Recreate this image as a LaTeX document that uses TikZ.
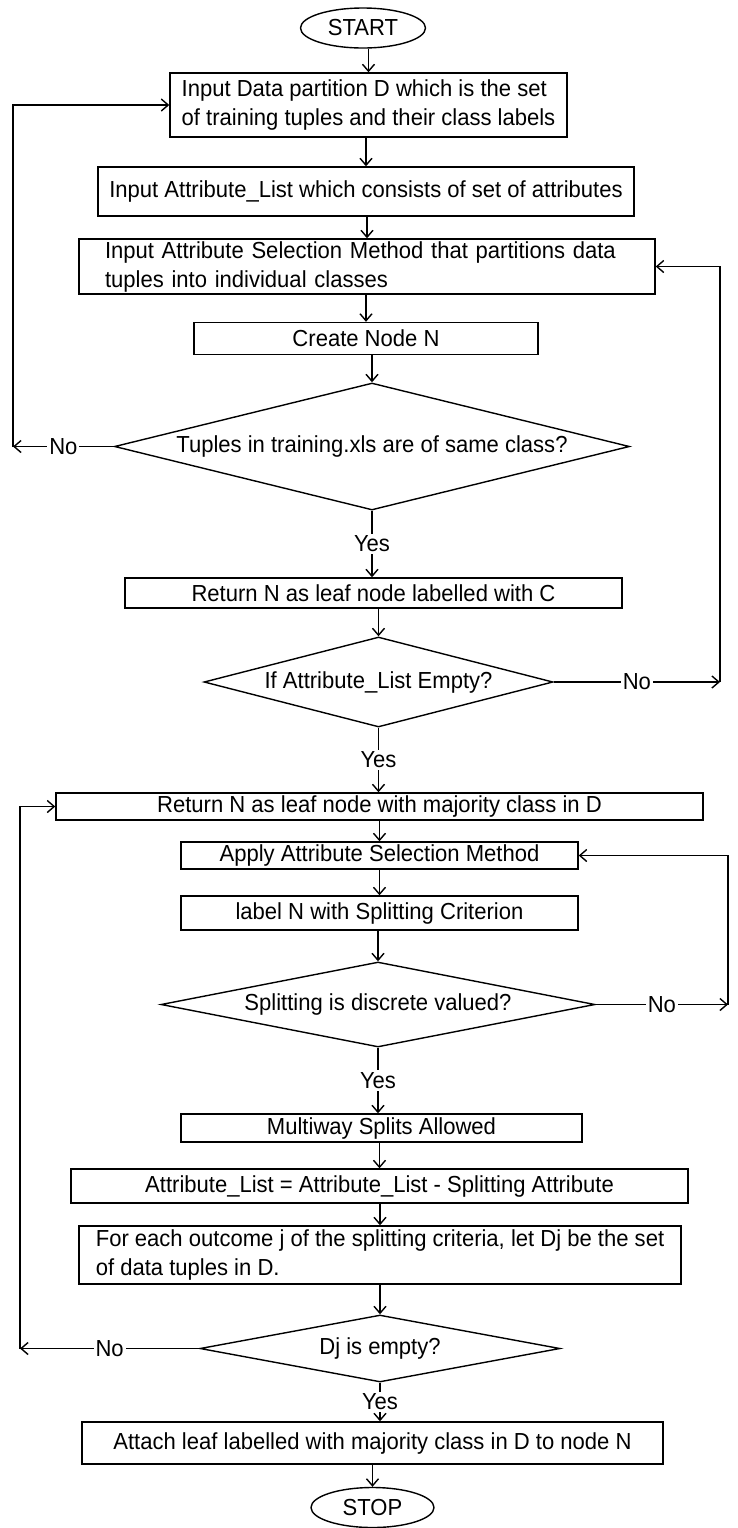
\documentclass[tikz,border=0pt]{standalone}
\usepackage{fontspec}
\setmainfont{Liberation Sans}[FakeStretch=0.95]
\usetikzlibrary{shapes.geometric}
\usetikzlibrary{arrows.meta}
\newcommand{\flowfont}{\fontsize{11.6}{14.5}\selectfont}
\tikzset{
  box/.style={draw,rectangle,line width=0.7pt,inner sep=1pt,align=center},
  leftbox/.style={box,align=left},
  term/.style={draw,ellipse,line width=0.7pt,inner sep=0pt},
  decide/.style={draw,diamond,line width=0.7pt,inner sep=0pt},
  arr/.style={line width=0.7pt,-{Straight Barb[length=3.5pt,width=6pt]}},
  lbl/.style={fill=white,inner sep=1pt}
}
\begin{document}
\begin{tikzpicture}[x=0.5pt,y=-0.5pt,font=\flowfont]
\useasboundingbox (0,0) rectangle (738,1528);

% start and inputs
\node[term,minimum width=62.5pt,minimum height=20pt] (start) at (363,28) {START};
\node[leftbox,minimum width=198.5pt,minimum height=32pt] (in1) at (368.5,105) {Input Data partition D which is the set\\of training tuples and their class labels};
\node[box,minimum width=268pt,minimum height=24.5pt] (in2) at (366,191.5) {Input Attribute\_List which consists of set of attributes};
\node[leftbox,text width=262pt,inner xsep=13pt,minimum height=27.5pt] (in3) at (367,266.5) {Input Attribute Selection Method that partitions data\\tuples into individual classes};
\node[box,minimum width=172pt,minimum height=16pt] (create) at (366,338.5) {Create Node N};

% first checks
\node[decide,aspect=4.06,minimum width=257.5pt,minimum height=63.5pt] (d1) at (372,446.5) {Tuples in training.xls are of same class?};
\node[box,minimum width=248.5pt,minimum height=15pt] (retc) at (373.5,593) {Return N as leaf node labelled with C};
\node[decide,aspect=3.88,minimum width=174.5pt,minimum height=45pt] (d2) at (378.5,682) {If Attribute\_List Empty?};
\node[box,minimum width=323.5pt,minimum height=13.5pt] (retm) at (379.5,806.5) {Return N as leaf node with majority class in D};

% splitting
\node[box,minimum width=198.5pt,minimum height=13.5pt] (apply) at (379.5,855.5) {Apply Attribute Selection Method};
\node[box,minimum width=198.5pt,minimum height=17pt] (lab) at (379.5,913) {label N with Splitting Criterion};
\node[decide,aspect=5.1,minimum width=217pt,minimum height=42.5pt] (d3) at (378,1004.5) {Splitting is discrete valued?};
\node[box,minimum width=200.5pt,minimum height=14pt] (multi) at (381.5,1128) {Multiway Splits Allowed};
\node[box,minimum width=308.5pt,minimum height=17pt] (attr) at (379.5,1186) {Attribute\_List = Attribute\_List - Splitting Attribute};
\node[leftbox,minimum width=301pt,minimum height=29pt] (each) at (380,1255) {For each outcome j of the splitting criteria, let Dj be the set\\of data tuples in D.};
\node[decide,aspect=5.4,minimum width=180pt,minimum height=33.5pt] (d4) at (380,1348.5) {Dj is empty?};
\node[box,minimum width=290.5pt,minimum height=21pt] (attach) at (372.5,1443) {Attach leaf labelled with majority class in D to node N};
\node[term,minimum width=61.5pt,minimum height=20pt] (stop) at (372.5,1507.5) {STOP};

% straight flow
\foreach \a/\b in {start/in1,in1/in2,in2/in3,in3/create,create/d1,retc/d2,retm/apply,apply/lab,lab/d3,multi/attr,attr/each,each/d4,attach/stop}
  \draw[arr] (\a.south -| \b.north) -- (\b.north);
\foreach \a/\b in {d1/retc,d2/retm,d3/multi,d4/attach}
  \draw[arr] (\a.south) -- node[lbl]{Yes} (\b.north -| \a.south);

% loops back
\coordinate (noA) at (13,446.5);
\coordinate (noB) at (720,682);
\coordinate (noC) at (728,1004.5);
\coordinate (noD) at (20,1348.5);
\draw[arr] (d1.west) -- node[lbl]{No} (noA);
\draw[arr] (noA) |- (in1.west);
\draw[arr] (d2.east) -- node[lbl]{No} (noB);
\draw[arr] (noB) |- (in3.east);
\draw[arr] (d3.east) -- node[lbl]{No} (noC);
\draw[arr] (noC) |- (apply.east);
\draw[arr] (d4.west) -- node[lbl]{No} (noD);
\draw[arr] (noD) |- (retm.west);
\end{tikzpicture}
\end{document}
